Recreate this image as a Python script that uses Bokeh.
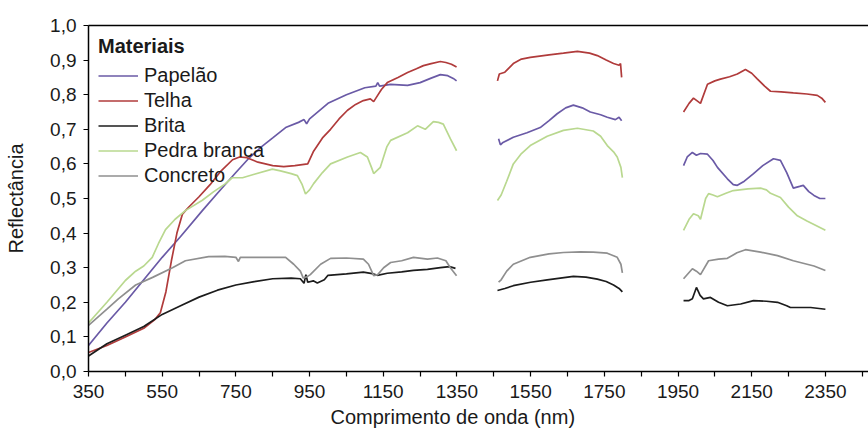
import math
from bokeh.plotting import figure
from bokeh.models import (Range1d, FixedTicker, CustomJSTickFormatter, LinearAxis,
                          Title, Legend, LegendItem)
from bokeh.embed import file_html
from bokeh.resources import INLINE

NaN = float("nan")

# ---------------- data ----------------
series_names = ["Papelão", "Telha", "Brita", "Pedra branca", "Concreto"]
series_colors = ["#6a5aa6", "#b03b3b", "#1c1c1c", "#b9d88f", "#8f8f8f"]

papelao_wl = [350, 400, 450, 500, 550, 600, 659, 700, 750, 784, 820, 850, 885, 920, 935, 942, 950,
              1000, 1050, 1100, 1130, 1135, 1140, 1170, 1216, 1250, 1280, 1305, 1325, 1340, 1349,
              NaN,
              1463, 1468, 1475, 1503, 1540, 1576, 1600, 1622, 1645, 1666, 1690, 1712, 1740, 1758,
              1780, 1790, 1797,
              NaN,
              1965, 1975, 1989, 2000, 2011, 2030, 2045, 2057, 2084, 2100, 2111, 2130, 2155, 2180,
              2209, 2228, 2245, 2263, 2280, 2290, 2305, 2319, 2335, 2350]
papelao_r = [0.075, 0.14, 0.20, 0.265, 0.33, 0.39, 0.465, 0.515, 0.575, 0.615, 0.65, 0.675, 0.705,
             0.72, 0.728, 0.716, 0.73, 0.775, 0.80, 0.82, 0.825, 0.835, 0.825, 0.83, 0.827, 0.835,
             0.848, 0.858, 0.855, 0.847, 0.84,
             NaN,
             0.673, 0.655, 0.662, 0.677, 0.69, 0.705, 0.725, 0.745, 0.762, 0.77, 0.762, 0.75, 0.742,
             0.735, 0.728, 0.735, 0.725,
             NaN,
             0.595, 0.62, 0.633, 0.625, 0.63, 0.628, 0.61, 0.59, 0.557, 0.54, 0.538, 0.55, 0.572,
             0.595, 0.615, 0.61, 0.575, 0.53, 0.535, 0.538, 0.52, 0.509, 0.50, 0.50]

telha_wl = [350, 400, 450, 500, 530, 545, 560, 575, 590, 605, 621, 650, 680, 710, 741, 760, 780,
            810, 850, 880, 910, 930, 945, 960, 985, 1007, 1030, 1053, 1075, 1096, 1115, 1124, 1130,
            1145, 1161, 1190, 1216, 1240, 1259, 1280, 1305, 1320, 1335, 1349,
            NaN,
            1460, 1465, 1480, 1503, 1525, 1549, 1600, 1639, 1677, 1710, 1731, 1755, 1775, 1790,
            1794, 1797,
            NaN,
            1965, 1980, 1992, 2011, 2030, 2050, 2065, 2090, 2111, 2133, 2150, 2165, 2185, 2201,
            2230, 2263, 2300, 2328, 2340, 2350]
telha_r = [0.055, 0.075, 0.10, 0.125, 0.15, 0.17, 0.23, 0.32, 0.40, 0.455, 0.474, 0.505, 0.54,
           0.58, 0.612, 0.62, 0.618, 0.605, 0.595, 0.592, 0.595, 0.598, 0.60, 0.635, 0.675, 0.70,
           0.73, 0.755, 0.772, 0.783, 0.788, 0.78, 0.79, 0.815, 0.835, 0.85, 0.864, 0.875, 0.884,
           0.89, 0.896, 0.893, 0.888, 0.88,
           NaN,
           0.84, 0.86, 0.865, 0.89, 0.903, 0.908, 0.915, 0.92, 0.925, 0.92, 0.913, 0.90, 0.89,
           0.885, 0.89, 0.85,
           NaN,
           0.75, 0.775, 0.79, 0.775, 0.83, 0.84, 0.845, 0.852, 0.86, 0.873, 0.862, 0.846, 0.825,
           0.81, 0.808, 0.805, 0.802, 0.798, 0.79, 0.778]

brita_wl = [350, 400, 450, 500, 550, 600, 650, 700, 750, 800, 850, 900, 925, 935, 940, 945, 960,
            971, 990, 1000, 1050, 1096, 1120, 1134, 1161, 1200, 1232, 1270, 1305, 1330, 1346,
            NaN,
            1460, 1480, 1503, 1550, 1595, 1666, 1700, 1731, 1755, 1775, 1790, 1799,
            NaN,
            1965, 1980, 1989, 2000, 2010, 2019, 2038, 2060, 2084, 2120, 2155, 2190, 2220, 2245,
            2255, 2310, 2350]
brita_r = [0.045, 0.08, 0.105, 0.13, 0.165, 0.19, 0.215, 0.235, 0.25, 0.26, 0.268, 0.27, 0.268,
           0.255, 0.28, 0.258, 0.262, 0.256, 0.265, 0.278, 0.282, 0.287, 0.283, 0.278, 0.284,
           0.288, 0.292, 0.295, 0.30, 0.303, 0.298,
           NaN,
           0.234, 0.24, 0.248, 0.258, 0.265, 0.275, 0.273, 0.267, 0.26, 0.25, 0.24, 0.23,
           NaN,
           0.205, 0.205, 0.21, 0.243, 0.22, 0.21, 0.214, 0.20, 0.19, 0.195, 0.205, 0.203, 0.20,
           0.19, 0.185, 0.185, 0.18]

pedra_wl = [350, 400, 450, 478, 500, 523, 540, 559, 585, 613, 659, 690, 722, 740, 768, 800, 849,
            871, 900, 917, 930, 939, 950, 961, 985, 1007, 1053, 1088, 1107, 1118, 1124, 1142, 1160,
            1170, 1216, 1243, 1264, 1286, 1300, 1313, 1332, 1349,
            NaN,
            1460, 1470, 1485, 1503, 1525, 1549, 1595, 1639, 1677, 1720, 1740, 1758, 1775, 1785,
            1795, 1799,
            NaN,
            1965, 1980, 1992, 2005, 2011, 2025, 2033, 2045, 2057, 2080, 2100, 2140, 2174, 2190,
            2201, 2228, 2250, 2274, 2300, 2319, 2350]
pedra_r = [0.14, 0.20, 0.263, 0.29, 0.305, 0.33, 0.37, 0.41, 0.44, 0.465, 0.495, 0.52, 0.543,
           0.56, 0.56, 0.57, 0.585, 0.58, 0.572, 0.566, 0.54, 0.513, 0.525, 0.543, 0.575, 0.60,
           0.62, 0.633, 0.62, 0.59, 0.572, 0.59, 0.65, 0.668, 0.69, 0.71, 0.70, 0.722, 0.72,
           0.715, 0.673, 0.638,
           NaN,
           0.494, 0.51, 0.55, 0.60, 0.63, 0.653, 0.68, 0.697, 0.703, 0.695, 0.68, 0.653, 0.635,
           0.62, 0.59, 0.56,
           NaN,
           0.408, 0.44, 0.456, 0.45, 0.44, 0.50, 0.514, 0.51, 0.505, 0.515, 0.523, 0.528, 0.53,
           0.525, 0.515, 0.503, 0.475, 0.45, 0.435, 0.425, 0.408]

concreto_wl = [350, 400, 431, 478, 524, 578, 613, 676, 720, 750, 757, 762, 811, 850, 885, 907,
               925, 933, 945, 952, 980, 1007, 1050, 1096, 1110, 1124, 1135, 1151, 1170, 1200,
               1232, 1270, 1297, 1320, 1332, 1349,
               NaN,
               1463, 1470, 1485, 1503, 1549, 1600, 1639, 1685, 1720, 1758, 1785, 1795, 1799,
               NaN,
               1965, 1989, 2000, 2011, 2033, 2060, 2084, 2110, 2133, 2174, 2220, 2263, 2319, 2350]
concreto_r = [0.133, 0.18, 0.21, 0.25, 0.272, 0.30, 0.32, 0.332, 0.333, 0.33, 0.318, 0.33, 0.33,
              0.33, 0.33, 0.31, 0.29, 0.27, 0.275, 0.28, 0.31, 0.327, 0.328, 0.325, 0.31, 0.277,
              0.28, 0.30, 0.315, 0.32, 0.33, 0.325, 0.328, 0.32, 0.30, 0.277,
              NaN,
              0.258, 0.265, 0.29, 0.31, 0.33, 0.34, 0.344, 0.346, 0.345, 0.342, 0.33, 0.31, 0.285,
              NaN,
              0.268, 0.297, 0.29, 0.28, 0.32, 0.325, 0.327, 0.343, 0.352, 0.345, 0.335, 0.32,
              0.305, 0.292]

x_major_ticks = [350, 550, 750, 950, 1150, 1350, 1550, 1750, 1950, 2150, 2350, 2550]
x_minor_ticks = [450, 650, 850, 1050, 1250, 1450, 1650, 1850, 2050, 2250, 2450]
y_ticks = [0.0, 0.1, 0.2, 0.3, 0.4, 0.5, 0.6, 0.7, 0.8, 0.9, 1.0]

FONT = "Liberation Sans"

# ---------------- figure ----------------
p = figure(width=868, height=432, output_backend="svg", toolbar_location=None,
           x_range=Range1d(350, 2467), y_range=Range1d(0, 1.0),
           min_border_left=88, min_border_right=0, min_border_top=25, min_border_bottom=61)
p.grid.visible = False
p.outline_line_color = None
p.background_fill_color = "white"
p.border_fill_color = "white"

data = [(papelao_wl, papelao_r), (telha_wl, telha_r), (brita_wl, brita_r),
        (pedra_wl, pedra_r), (concreto_wl, concreto_r)]
items = []
for name, color, (wl, r) in zip(series_names, series_colors, data):
    rr = p.line(wl, r, line_color=color, line_width=1.7)
    items.append(LegendItem(label=name, renderers=[rr]))

# x axis
xa = p.xaxis[0]
xa.ticker = FixedTicker(ticks=x_major_ticks, minor_ticks=x_minor_ticks)
xa.major_tick_in = 0
xa.major_tick_out = 5
xa.minor_tick_in = 0
xa.minor_tick_out = 5
xa.minor_tick_line_color = "black"
xa.major_tick_line_color = "black"
xa.axis_line_color = "black"
xa.axis_line_width = 1.5
xa.major_tick_line_width = 1.2
xa.minor_tick_line_width = 1.2
xa.major_label_text_font = FONT
xa.major_label_text_font_size = "19px"
xa.major_label_text_color = "#1a1a1a"
xa.major_label_standoff = 8

# y axis
ya = p.yaxis[0]
ya.ticker = FixedTicker(ticks=y_ticks)
ya.formatter = CustomJSTickFormatter(code="return tick.toFixed(1).replace('.', ',');")
ya.major_tick_in = 0
ya.major_tick_out = 5
ya.minor_tick_line_color = None
ya.major_tick_line_color = "black"
ya.axis_line_color = "black"
ya.axis_line_width = 1.5
ya.major_tick_line_width = 1.2
ya.major_label_text_font = FONT
ya.major_label_text_font_size = "19px"
ya.major_label_text_color = "#1a1a1a"
ya.major_label_standoff = 7
ya.axis_label = "Reflectância"
ya.axis_label_text_font = FONT
ya.axis_label_text_font_size = "20px"
ya.axis_label_text_font_style = "normal"
ya.axis_label_text_color = "#1a1a1a"
ya.axis_label_standoff = 20

# top border line
top = LinearAxis(ticker=FixedTicker(ticks=[]), major_tick_line_color=None,
                 minor_tick_line_color=None, major_label_text_font_size="0px",
                 major_tick_out=0, minor_tick_out=0, major_label_standoff=0,
                 axis_line_color="black", axis_line_width=1.5)
p.add_layout(top, "above")

# x axis title
xt = Title(text="Comprimento de onda (nm)", align="left", offset=242,
           text_font=FONT, text_font_size="20px", text_font_style="normal",
           text_color="#1a1a1a", standoff=6)
p.add_layout(xt, "below")

legend = Legend(items=items, location="top_left", title="Materiais",
                title_text_font=FONT, title_text_font_style="bold",
                title_text_font_size="20px", title_text_color="#1a1a1a", title_standoff=6,
                label_text_font=FONT, label_text_font_size="20px", label_text_color="#1a1a1a",
                glyph_width=40, glyph_height=21, label_height=21, spacing=2,
                padding=11, margin=10, label_standoff=6,
                border_line_color=None, background_fill_alpha=0)
p.add_layout(legend)

open("out.html", "w").write(file_html(p, INLINE))
